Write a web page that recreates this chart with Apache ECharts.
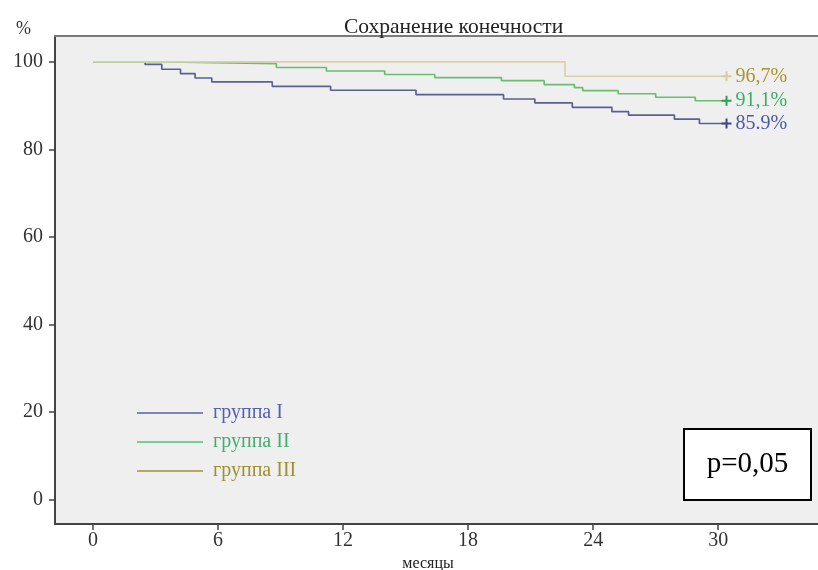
<!DOCTYPE html>
<html>
<head>
<meta charset="utf-8">
<script src="https://cdn.jsdelivr.net/npm/echarts@6/dist/echarts.min.js"></script>
<style>
  html, body { margin: 0; padding: 0; background: #ffffff; }
  #chart { width: 818px; height: 570px; }
</style>
</head>
<body>
<div id="chart"></div>
<script>
// Kaplan–Meier limb salvage curves, three patient groups
const groupNames = ['группа I', 'группа II', 'группа III'];

// group I: event times (months) and survival after each event (%)
const timeI = [0, 2.5, 3.3, 4.2, 4.9, 5.7, 8.6, 11.4, 15.5, 19.7, 21.2, 23.0, 24.9, 25.7, 27.9, 29.1, 30.4];
const survI = [100, 99.4, 98.3, 97.3, 96.3, 95.4, 94.4, 93.5, 92.5, 91.5, 90.6, 89.6, 88.6, 87.8, 86.9, 85.9, 85.9];

// group II
const timeII = [0, 3.55, 8.8, 11.2, 14.0, 16.4, 19.6, 21.65, 23.1, 23.5, 25.2, 27.0, 28.9, 30.4];
const survII = [100, 99.6, 98.7, 97.9, 97.1, 96.4, 95.7, 94.8, 94.1, 93.4, 92.7, 91.9, 91.1, 91.1];

// group III
const timeIII = [0, 22.65, 30.4];
const survIII = [100, 96.7, 96.7];

// labels at the censored end of each curve
const endLabels = ['85.9%', '91,1%', '96,7%'];

const xTicks = [0, 6, 12, 18, 24, 30];
const yTicks = [0, 20, 40, 60, 80, 100];
const pValueText = 'p=0,05';

const SERIF = '"Liberation Serif", "Times New Roman", serif';
const PLUS = 'path://M4,0H6V4H10V6H6V10H4V6H0V4H4Z';

const lineColors   = ['#5a6094', '#6abd72', '#d9d2aa'];
const markerColors = ['#3d4a80', '#2f9f52', '#d6cc9c'];
const labelColors  = ['#4f58a8', '#3cae68', '#a8962e'];
const legendLineColors = ['#5a5fb0', '#4cc080', '#a39233'];
const legendTextColors = ['#5560b0', '#40b070', '#a09030'];

function buildSeries(idx, times, values) {
  const data = times.map((t, i) => {
    if (i === times.length - 1) {
      return {
        value: [t, values[i]],
        symbol: PLUS,
        symbolSize: 10,
        itemStyle: { color: markerColors[idx] },
        label: {
          show: true,
          position: 'right',
          distance: 4,
          formatter: endLabels[idx],
          color: labelColors[idx],
          fontSize: 20,
          fontFamily: SERIF
        }
      };
    }
    return { value: [t, values[i]], symbol: 'none' };
  });
  return {
    name: groupNames[idx],
    type: 'line',
    step: 'end',
    data: data,
    lineStyle: { color: lineColors[idx], width: 1.7 },
    itemStyle: { color: lineColors[idx] },
    emphasis: { disabled: true },
    animation: false,
    z: 2 + idx
  };
}

const chart = echarts.init(document.getElementById('chart'), null, { renderer: 'canvas' });

chart.setOption({
  backgroundColor: '#ffffff',
  animation: false,
  title: {
    text: 'Сохранение конечности',
    left: 339,
    top: 11,
    textStyle: { fontFamily: SERIF, fontSize: 21.5, fontWeight: 'normal', color: '#222' }
  },
  legend: {
    orient: 'vertical',
    left: 137,
    top: 403,
    padding: 0,
    itemWidth: 66,
    itemHeight: 1.5,
    itemGap: 9,
    selectedMode: false,
    icon: 'rect',
    textStyle: { fontFamily: SERIF, fontSize: 20, lineHeight: 20, padding: [0, 0, 0, 5] },
    data: groupNames.map((n, i) => ({
      name: n,
      itemStyle: { color: legendLineColors[i] },
      textStyle: { color: legendTextColors[i] }
    }))
  },
  grid: {
    left: 55, right: 0, top: 36, bottom: 46,
    outerBoundsMode: 'none',
    containLabel: false,
    show: true,
    backgroundColor: '#efefef',
    borderWidth: 0
  },
  xAxis: [{
    type: 'value',
    min: -1.824,
    max: 34.79,
    name: 'месяцы',
    nameLocation: 'middle',
    nameGap: 30,
    nameTextStyle: { fontFamily: SERIF, fontSize: 16, color: '#222', padding: [0, 17, 0, 0] },
    axisLine: { show: true, onZero: false, lineStyle: { color: '#444', width: 2 } },
    axisTick: { show: true, customValues: xTicks, length: 6, lineStyle: { color: '#444', width: 1.5 } },
    axisLabel: { customValues: xTicks, margin: 7, fontFamily: SERIF, fontSize: 20, color: '#333' },
    splitLine: { show: false }
  }, {
    type: 'value',
    position: 'top',
    min: -1.824,
    max: 34.79,
    axisLine: { show: true, onZero: false, lineStyle: { color: '#7a7a7a', width: 2 } },
    axisTick: { show: false },
    axisLabel: { show: false },
    splitLine: { show: false }
  }],
  yAxis: {
    type: 'value',
    min: -5.64,
    max: 105.9,
    name: '%',
    nameLocation: 'end',
    nameGap: -2,
    nameTextStyle: { fontFamily: SERIF, fontSize: 18, color: '#333', align: 'right', padding: [0, 24, 0, 0] },
    axisLine: { show: true, onZero: false, lineStyle: { color: '#444', width: 2 } },
    axisTick: { show: true, customValues: yTicks, length: 6, lineStyle: { color: '#444', width: 1.5 } },
    axisLabel: { customValues: yTicks, margin: 12, fontFamily: SERIF, fontSize: 20, color: '#333' },
    splitLine: { show: false }
  },
  series: [
    buildSeries(0, timeI, survI),
    buildSeries(1, timeII, survII),
    buildSeries(2, timeIII, survIII)
  ],
  graphic: [{
    type: 'group',
    left: 683,
    top: 428,
    children: [{
      type: 'rect',
      shape: { x: 0, y: 0, width: 127, height: 71 },
      style: { fill: '#ffffff', stroke: '#000000', lineWidth: 2 }
    }, {
      type: 'text',
      x: 63.5,
      y: 35.5,
      style: {
        text: pValueText,
        fontFamily: SERIF,
        fontSize: 29,
        fill: '#000000',
        align: 'center',
        verticalAlign: 'middle'
      }
    }]
  }]
});
</script>
</body>
</html>
